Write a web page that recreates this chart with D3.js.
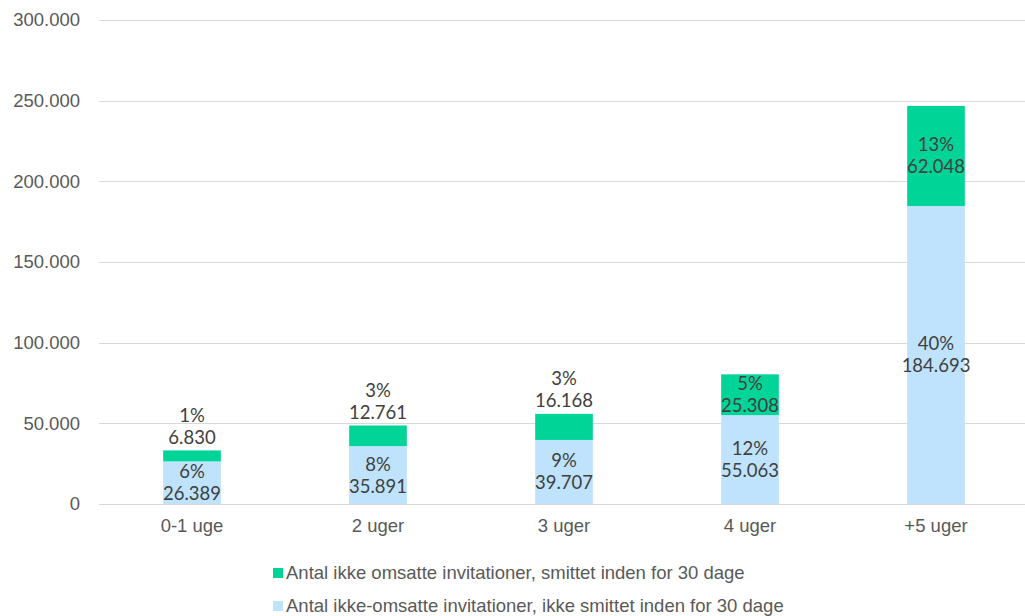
<!DOCTYPE html>
<html><head><meta charset="utf-8">
<script src="https://cdn.jsdelivr.net/npm/d3@7"></script>
<style>body{margin:0;background:#fff}svg{display:block}</style>
</head><body>
<svg id="c" width="1025" height="616"></svg>
<script>
const categories = ["0-1 uge", "2 uger", "3 uger", "4 uger", "+5 uger"];
const notInfected = [26389, 35891, 39707, 55063, 184693];
const notInfectedPct = ["6%", "8%", "9%", "12%", "40%"];
const infected = [6830, 12761, 16168, 25308, 62048];
const infectedPct = ["1%", "3%", "3%", "5%", "13%"];
const yTicks = [0, 50000, 100000, 150000, 200000, 250000, 300000];
const seriesNames = ["Antal ikke omsatte invitationer, smittet inden for 30 dage",
                     "Antal ikke-omsatte invitationer, ikke smittet inden for 30 dage"];
const colors = ["#00d496", "#bfe3fc"];

const svg = d3.select("#c");
const x = d3.scaleBand().domain(categories).range([99, 1029]).paddingInner(0.69).paddingOuter(0.345);
const y = d3.scaleLinear().domain([0, 300000]).range([504, 20]);
const fmt = v => d3.format(",")(v).replace(/,/g, ".");
const fs = 18.5;

svg.append("g").selectAll("line").data(yTicks).join("line")
  .attr("x1", 99).attr("x2", 1025)
  .attr("y1", d => Math.round(y(d)) + 0.5).attr("y2", d => Math.round(y(d)) + 0.5)
  .attr("stroke", "#d9d9d9").attr("stroke-width", 1);

svg.append("g").selectAll("text").data(yTicks).join("text")
  .attr("x", 80).attr("y", d => y(d)).attr("dy", "0.35em")
  .attr("text-anchor", "end").attr("font-family", "Liberation Sans, Arial")
  .attr("font-size", fs).attr("fill", "#595959")
  .text(d => d === 0 ? "0" : fmt(d));

svg.append("g").selectAll("text").data(categories).join("text")
  .attr("x", d => x(d) + x.bandwidth() / 2).attr("y", 526).attr("dy", "0.35em")
  .attr("text-anchor", "middle").attr("font-family", "Liberation Sans, Arial")
  .attr("font-size", fs).attr("fill", "#595959").text(d => d);

const rows = categories.map((c, i) => ({c, a: notInfected[i], ap: notInfectedPct[i], b: infected[i], bp: infectedPct[i]}));

svg.append("g").selectAll("rect").data(rows).join("rect")
  .attr("x", d => x(d.c)).attr("width", x.bandwidth())
  .attr("y", d => y(d.a)).attr("height", d => y(0) - y(d.a))
  .attr("fill", colors[1]);
svg.append("g").selectAll("rect").data(rows).join("rect")
  .attr("x", d => x(d.c)).attr("width", x.bandwidth())
  .attr("y", d => y(d.a + d.b)).attr("height", d => y(d.a) - y(d.a + d.b))
  .attr("fill", colors[0]);

const lab = svg.append("g").attr("font-family", "Lato, Raleway, sans-serif")
  .attr("font-size", fs).attr("fill", "#404040").attr("text-anchor", "middle");

rows.forEach(d => {
  const cx = x(d.c) + x.bandwidth() / 2;
  const cb = (y(0) + y(d.a)) / 2;
  lab.append("text").attr("x", cx).attr("y", cb - 11).attr("dy", "0.35em").text(d.ap);
  lab.append("text").attr("x", cx).attr("y", cb + 11).attr("dy", "0.35em").text(fmt(d.a));
  const top = y(d.a + d.b), h = y(d.a) - top;
  let cg = h < 36 ? top - 24 : (top + y(d.a)) / 2;
  lab.append("text").attr("x", cx).attr("y", cg - 11).attr("dy", "0.35em").text(d.bp);
  lab.append("text").attr("x", cx).attr("y", cg + 11).attr("dy", "0.35em").text(fmt(d.b));
});

const leg = svg.append("g");
seriesNames.forEach((n, i) => {
  const yy = 573 + i * 33;
  leg.append("rect").attr("x", 273).attr("y", yy - 5).attr("width", 10).attr("height", 10).attr("fill", colors[i]);
  leg.append("text").attr("x", 286).attr("y", yy).attr("dy", "0.35em")
    .attr("font-family", "Liberation Sans, Arial").attr("font-size", fs).attr("fill", "#595959").text(n);
});
</script>
</body></html>
